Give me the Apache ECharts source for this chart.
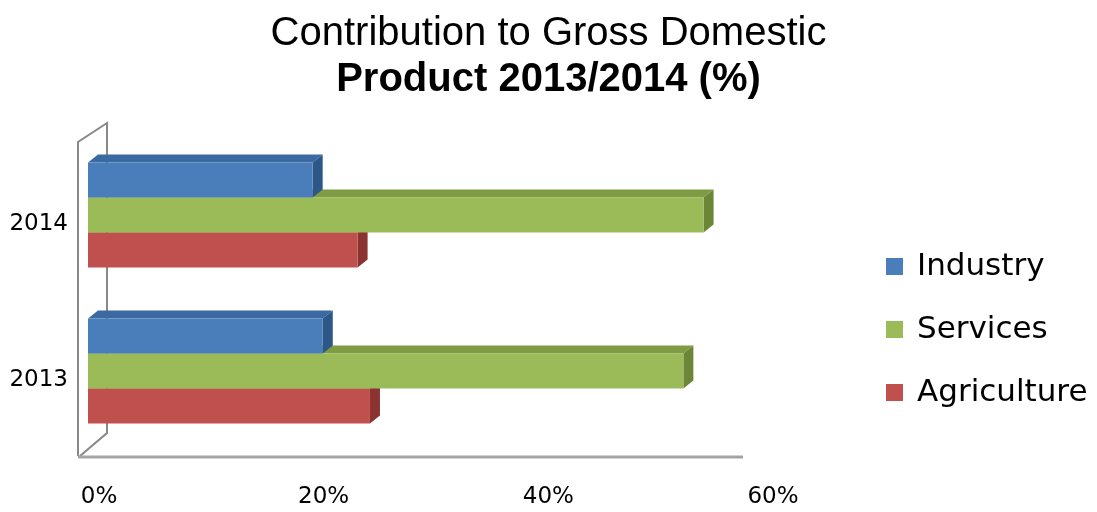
<!DOCTYPE html>
<html>
<head>
<meta charset="utf-8">
<script src="https://cdn.jsdelivr.net/npm/echarts@6/dist/echarts.min.js"></script>
<style>
  html, body { margin: 0; padding: 0; background: #ffffff; }
  #chart { width: 1097px; height: 512px; }
</style>
</head>
<body>
<div id="chart"></div>
<script>
// Share of GDP by sector, in percent
const years = ['2013', '2014'];
const industry = [20.9, 20.0];
const services = [53.0, 54.8];
const agriculture = [25.1, 24.0];
const xTicks = [0, 20, 40, 60];

// bar face colours: front, top, side
const palette = {
  Industry:    { front: '#4a7ebb', top: '#3b6aa2', side: '#2d5787' },
  Services:    { front: '#9bbb59', top: '#7f9c45', side: '#6b8636' },
  Agriculture: { front: '#c0504d', top: '#a03f3c', side: '#8a3330' }
};

// depth of the 3D extrusion in pixels
const DX = 10, DY = -8;

function barRenderer(slot, colors) {
  return function (params, api) {
    const v = api.value(0);
    const c = api.value(1);
    const p0 = api.coord([0, c]);
    const p1 = api.coord([v, c]);
    const band = api.size([0, 1])[1];
    const h = band * 35 / 156;
    const lift = band * 9 / 156;
    const top = p0[1] - lift - 1.5 * h + slot * h;
    const x0 = p0[0], x1 = p1[0];
    return {
      type: 'group',
      children: [
        { type: 'polygon', shape: { points: [[x0, top], [x0 + DX, top + DY], [x1 + DX, top + DY], [x1, top]] },
          style: { fill: colors.top } },
        { type: 'polygon', shape: { points: [[x1, top], [x1 + DX, top + DY], [x1 + DX, top + h + DY], [x1, top + h]] },
          style: { fill: colors.side } },
        { type: 'rect', shape: { x: x0, y: top, width: x1 - x0, height: h },
          style: { fill: colors.front } }
      ]
    };
  };
}

// walls and floor of the 3D plot area
function frameRenderer(params, api) {
  const cs = params.coordSys;
  const x0 = cs.x, yT = cs.y, yB = cs.y + cs.height;
  const xEnd = api.coord([xTicks[xTicks.length - 1], 0])[0];
  const wall = { stroke: '#888888', lineWidth: 2, fill: null };
  return {
    type: 'group',
    children: [
      { type: 'polyline', shape: { points: [[x0 - 10, yB - 2], [x0 - 10, yT - 4], [x0 + 19, yT - 23], [x0 + 19, yB - 25], [x0 - 8, yB - 2]] }, style: wall },
      { type: 'line', shape: { x1: x0 - 10, y1: yB - 1, x2: xEnd - 19, y2: yB - 1 }, style: { stroke: '#a4a4a4', lineWidth: 3 } }
    ]
  };
}

function seriesData(values) {
  return values.map(function (v, i) { return [v, i]; });
}

const chart = echarts.init(document.getElementById('chart'), null, { renderer: 'canvas' });

chart.setOption({
  backgroundColor: '#ffffff',
  animation: false,
  title: [
    { text: 'Contribution to Gross Domestic', left: 'center', top: 9,
      textStyle: { fontFamily: 'Liberation Sans', fontWeight: 'normal', fontSize: 40, color: '#000' } },
    { text: 'Product 2013/2014 (%)', left: 'center', top: 55,
      textStyle: { fontFamily: 'Liberation Sans', fontWeight: 'bold', fontSize: 40, color: '#000' } }
  ],
  legend: {
    data: ['Industry', 'Services', 'Agriculture'],
    orient: 'vertical',
    left: 886,
    top: 251,
    padding: 0,
    icon: 'rect',
    itemWidth: 17,
    itemHeight: 17,
    itemGap: 32,
    selectedMode: false,
    textStyle: { fontFamily: 'DejaVu Sans', fontSize: 31, lineHeight: 31, color: '#000', padding: [0, 0, 0, 9] }
  },
  grid: { left: 88, right: 335, top: 146, bottom: 54, containLabel: false },
  xAxis: {
    type: 'value',
    min: xTicks[0],
    max: xTicks[xTicks.length - 1],
    interval: 20,
    axisLine: { show: false },
    axisTick: { show: false },
    splitLine: { show: false },
    axisLabel: {
      formatter: '{value}%',
      fontFamily: 'DejaVu Sans',
      fontSize: 23,
      color: '#000',
      margin: 28,
      padding: [0, 0, 0, 22]
    }
  },
  yAxis: {
    type: 'category',
    data: years,
    axisLine: { show: false },
    axisTick: { show: false },
    splitLine: { show: false },
    axisLabel: { fontFamily: 'DejaVu Sans', fontSize: 23, color: '#000', margin: 20 }
  },
  series: [
    { name: 'frame', type: 'custom', silent: true, z: 1,
      data: [[0, 0]], renderItem: frameRenderer },
    { name: 'Agriculture', type: 'custom', z: 2, itemStyle: { color: palette.Agriculture.front },
      data: seriesData(agriculture), encode: { x: 0, y: 1 }, renderItem: barRenderer(2, palette.Agriculture) },
    { name: 'Services', type: 'custom', z: 2, itemStyle: { color: palette.Services.front },
      data: seriesData(services), encode: { x: 0, y: 1 }, renderItem: barRenderer(1, palette.Services) },
    { name: 'Industry', type: 'custom', z: 2, itemStyle: { color: palette.Industry.front },
      data: seriesData(industry), encode: { x: 0, y: 1 }, renderItem: barRenderer(0, palette.Industry) }
  ]
});
</script>
</body>
</html>
